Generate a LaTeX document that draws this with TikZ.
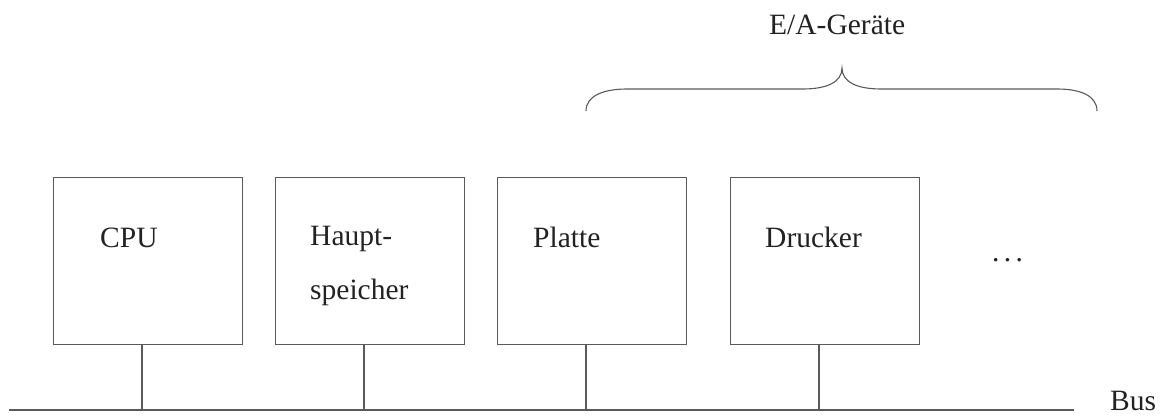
\documentclass[tikz,border=0pt]{standalone}
\usepackage{fontspec}
\setmainfont{Liberation Serif}
\definecolor{linec}{HTML}{5A5A5A}
\definecolor{textc}{HTML}{222222}
\begin{document}
\begin{tikzpicture}[x=1pt,y=-1pt,
  box/.style={draw=linec, line width=1.1pt, minimum width=189pt, minimum height=167pt, anchor=north west, inner sep=0pt},
  lbl/.style={anchor=base west, inner sep=0pt, font=\fontsize{29.5}{36}\selectfont, text=textc},
  conn/.style={draw=linec, line width=1.1pt},
  bracestyle/.style={draw=linec, line width=1.1pt}]
\useasboundingbox (0,0) rectangle (1162,417);
% boxes
\node[box] (cpu) at (53,177) {};
\node[box] (haupt) at (275,177) {};
\node[box] (platte) at (497,177) {};
\node[box] (drucker) at (730,177) {};
% bus
\coordinate (busL) at (9,410);
\coordinate (busR) at (1074,410);
\draw[conn] (busL) -- (busR);
\coordinate (b1) at (142,410);
\coordinate (b2) at (364,410);
\coordinate (b3) at (586,410);
\coordinate (b4) at (819,410);
\draw[conn] (b1 |- cpu.south) -- (b1);
\draw[conn] (b2 |- haupt.south) -- (b2);
\draw[conn] (b3 |- platte.south) -- (b3);
\draw[conn] (b4 |- drucker.south) -- (b4);
% labels
\node[lbl] (tcpu) at (100,247) {CPU};
\node[lbl] (thaupt1) at (310,245) {Haupt-};
\node[lbl] (thaupt2) at (310,299) {speicher};
\node[lbl] (tplatte) at (533,247) {Platte};
\node[lbl] (tdrucker) at (765,247) {Drucker};
\node[lbl] (tdots) at (992,261) {.\kern4.3pt.\kern4.3pt.};
\node[lbl, text depth=0pt] (tbus) at (1110,410) {Bus};
\node[lbl] (tea) at (769,35) {E/A-Geräte};
% brace
\draw[bracestyle] (586,111) .. controls (586,96) and (603,89) .. (627,89)
  -- (803,89) .. controls (827,89) and (842,82) .. (842,68)
  .. controls (842,82) and (857,89) .. (881,89)
  -- (1057,89) .. controls (1081,89) and (1097,96) .. (1097,111);
\end{tikzpicture}
\end{document}
